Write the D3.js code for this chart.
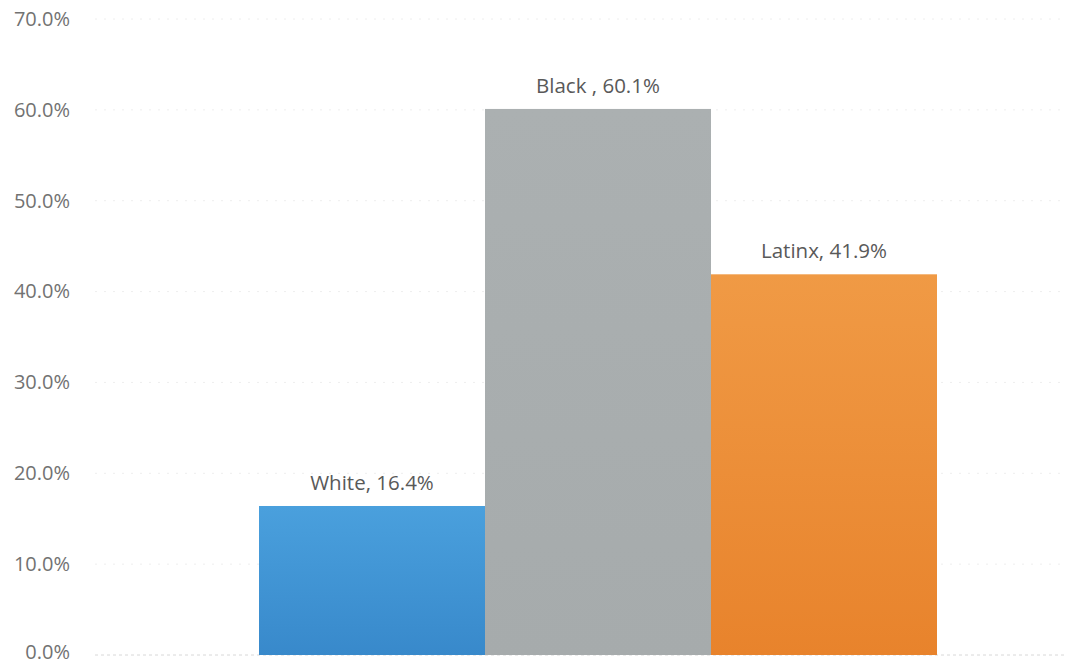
<!DOCTYPE html>
<html>
<head>
<meta charset="utf-8">
<script src="https://cdn.jsdelivr.net/npm/d3@7"></script>
<style>
  html, body { margin: 0; padding: 0; background: #fff; }
  svg { display: block; }
  text { font-family: "Open Sans", "Noto Sans", sans-serif; }
</style>
</head>
<body>
<svg id="chart" width="1076" height="664"></svg>
<script>
// Share of students by group
const categories = ["White", "Black ", "Latinx"];
const values = [16.4, 60.1, 41.9];
const yTicks = [0, 10, 20, 30, 40, 50, 60, 70];
const barColors = [
  ["#4aa0dd", "#3889cb"],
  ["#abb0b1", "#a6abac"],
  ["#f09a45", "#e8832c"]
];

const svg = d3.select("#chart");

const y = d3.scaleLinear().domain([0, 70]).range([655, 19]);
const x = d3.scaleBand().domain(categories).range([259, 937]).padding(0);

// vertical gradients for each bar
const defs = svg.append("defs");
barColors.forEach((c, i) => {
  const g = defs.append("linearGradient")
    .attr("id", "grad" + i)
    .attr("x1", 0).attr("y1", 0).attr("x2", 0).attr("y2", 1);
  g.append("stop").attr("offset", "0%").attr("stop-color", c[0]);
  g.append("stop").attr("offset", "100%").attr("stop-color", c[1]);
});

// faint dotted gridlines
svg.append("g").selectAll("line")
  .data(yTicks)
  .join("line")
  .attr("x1", 95).attr("x2", 1066)
  .attr("y1", d => y(d)).attr("y2", d => y(d))
  .attr("stroke", d => d === 0 ? "#d8d8d8" : "#eeeeee")
  .attr("stroke-width", 1)
  .attr("stroke-dasharray", d => d === 0 ? "3,3" : "2,7");

// y axis labels
const yAxis = d3.axisLeft(y)
  .tickValues(yTicks)
  .tickSize(0)
  .tickPadding(0)
  .tickFormat(d => d.toFixed(1) + "%");
const ya = svg.append("g").attr("transform", "translate(70,0)").call(yAxis);
ya.select(".domain").remove();
ya.selectAll("text")
  .attr("font-size", 20)
  .attr("fill", "#727272")
  .attr("font-family", "\"Open Sans\", sans-serif")
  .attr("dy", d => d === 0 ? "0.15em" : "0.32em");

// bars
svg.append("g").selectAll("rect")
  .data(values)
  .join("rect")
  .attr("x", (d, i) => x(categories[i]))
  .attr("width", x.bandwidth())
  .attr("y", d => y(d))
  .attr("height", d => y(0) - y(d))
  .attr("fill", (d, i) => `url(#grad${i})`);

// value labels
svg.append("g").selectAll("text")
  .data(values)
  .join("text")
  .attr("x", (d, i) => x(categories[i]) + x.bandwidth() / 2)
  .attr("y", d => y(d) - 16)
  .attr("text-anchor", "middle")
  .attr("font-size", 20.5)
  .attr("fill", "#595959")
  .text((d, i) => `${categories[i]}, ${d.toFixed(1)}%`);
</script>
</body>
</html>
